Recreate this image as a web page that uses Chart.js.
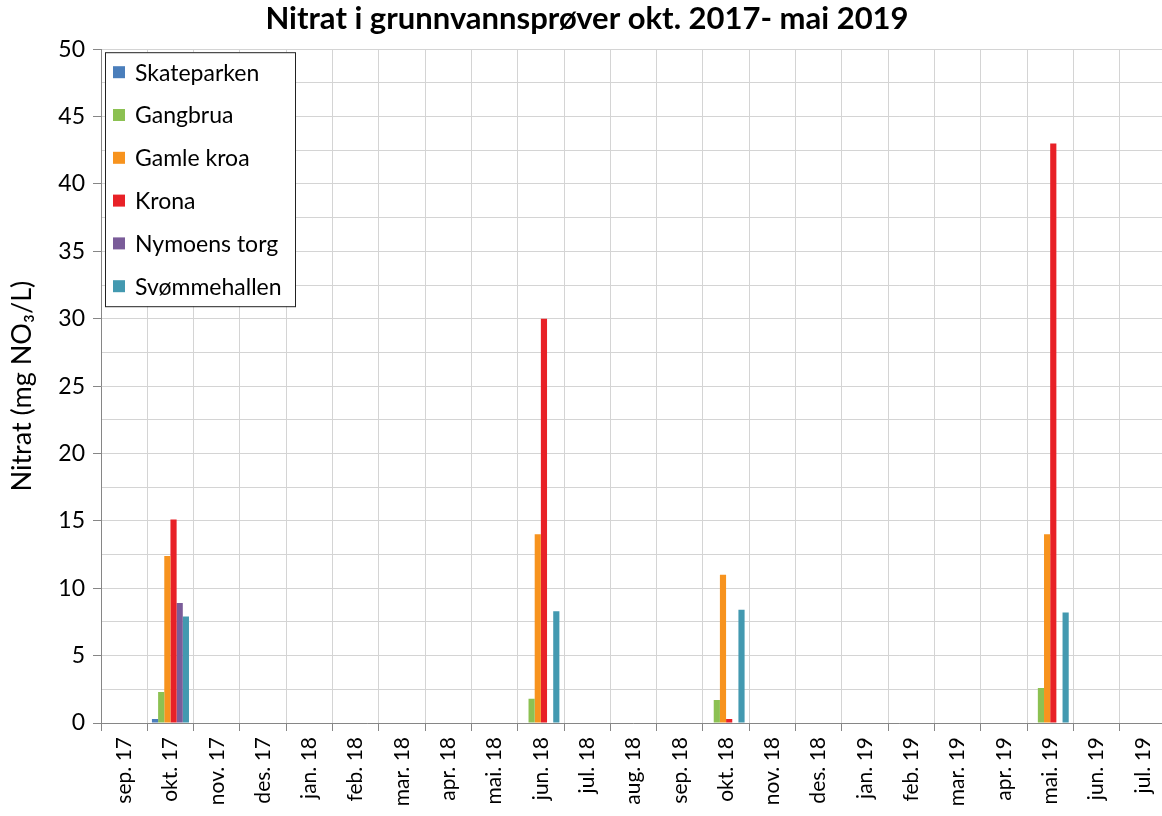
<!DOCTYPE html>
<html>
<head>
<meta charset="utf-8">
<script src="https://cdn.jsdelivr.net/npm/chart.js@4.4.1/dist/chart.umd.min.js"></script>
<style>
  html, body { margin: 0; padding: 0; background: #fff; overflow: hidden; }
  #wrap { width: 1174px; height: 816px; }
</style>
</head>
<body>
<div id="wrap"><canvas id="nitrat"></canvas></div>
<script>
var months = ["sep. 17", "okt. 17", "nov. 17", "des. 17", "jan. 18", "feb. 18", "mar. 18",
  "apr. 18", "mai. 18", "jun. 18", "jul. 18", "aug. 18", "sep. 18", "okt. 18", "nov. 18",
  "des. 18", "jan. 19", "feb. 19", "mar. 19", "apr. 19", "mai. 19", "jun. 19", "jul. 19"];

// one value per month, null where nothing was sampled
var skateparken = [null, 0.3, null, null, null, null, null, null, null, null, null, null,
  null, null, null, null, null, null, null, null, null, null, null];
var gangbrua = [null, 2.3, null, null, null, null, null, null, null, 1.8, null, null,
  null, 1.7, null, null, null, null, null, null, 2.6, null, null];
var gamleKroa = [null, 12.4, null, null, null, null, null, null, null, 14.0, null, null,
  null, 11.0, null, null, null, null, null, null, 14.0, null, null];
var krona = [null, 15.1, null, null, null, null, null, null, null, 30.0, null, null,
  null, 0.3, null, null, null, null, null, null, 43.0, null, null];
var nymoensTorg = [null, 8.9, null, null, null, null, null, null, null, null, null, null,
  null, null, null, null, null, null, null, null, null, null, null];
var svommehallen = [null, 7.9, null, null, null, null, null, null, null, 8.3, null, null,
  null, 8.4, null, null, null, null, null, null, 8.2, null, null];

var font = "Lato, 'Open Sans', sans-serif";

// boxed legend drawn inside the plot area, top left
var boxLegend = {
  id: 'boxLegend',
  afterDraw: function(chart) {
    var c = chart.ctx, a = chart.chartArea;
    var x = a.left + 4, y = a.top + 3, w = 190, h = 254;
    c.save();
    c.fillStyle = '#fff';
    c.fillRect(x, y, w, h);
    c.strokeStyle = '#222';
    c.lineWidth = 1;
    c.strokeRect(x + 0.5, y + 0.5, w, h);
    c.font = '23px ' + font;
    c.textBaseline = 'middle';
    chart.data.datasets.forEach(function(ds, i) {
      var cy = y + 20 + i * 42.8;
      c.fillStyle = ds.backgroundColor;
      c.fillRect(x + 8, cy - 6, 12, 12);
      c.fillStyle = '#000';
      c.fillText(ds.label, x + 30, cy + 1);
    });
    c.restore();
  }
};

var ctx = document.getElementById("nitrat").getContext('2d');
var nitrat = new Chart(ctx, {
  type: 'bar',
  data: {
    labels: months,
    datasets: [
      { label: "Skateparken", data: skateparken, backgroundColor: "#4a7ebb" },
      { label: "Gangbrua", data: gangbrua, backgroundColor: "#8cc152" },
      { label: "Gamle kroa", data: gamleKroa, backgroundColor: "#f7931e" },
      { label: "Krona", data: krona, backgroundColor: "#e82127" },
      { label: "Nymoens torg", data: nymoensTorg, backgroundColor: "#7a5c99" },
      { label: "Svømmehallen", data: svommehallen, backgroundColor: "#4399b0" }
    ]
  },
  options: {
    responsive: true,
    maintainAspectRatio: false,
    animation: false,
    layout: { padding: { top: 0, right: 0, left: 0, bottom: 0 } },
    datasets: { bar: { categoryPercentage: 0.8, barPercentage: 1.0 } },
    plugins: {
      legend: { display: false },
      tooltip: { enabled: false },
      title: {
        display: true,
        text: "Nitrat i grunnvannsprøver okt. 2017- mai 2019",
        color: '#000',
        font: { family: font, size: 31, weight: 'bold' },
        padding: { top: 0, bottom: 12 }
      }
    },
    scales: {
      x: {
        grid: { offset: true, color: '#d4d4d4', tickColor: '#868686', tickLength: 8 },
        border: { color: '#868686' },
        ticks: {
          color: '#000', maxRotation: 90, minRotation: 90, padding: 6,
          font: { family: font, size: 21 }
        },
        afterFit: function(s) { s.height = 93; }
      },
      y: {
        min: 0, max: 50,
        grid: {
          color: '#d4d4d4', tickLength: 8,
          tickColor: function(c) { return c.tick && c.tick.value % 5 === 0 ? '#868686' : 'rgba(0,0,0,0)'; }
        },
        border: { color: '#868686' },
        ticks: {
          stepSize: 2.5, color: '#000', padding: 8,
          font: { family: font, size: 23 },
          callback: function(v) { return v % 5 === 0 ? v : ''; }
        },
        title: {
          display: true, text: "Nitrat (mg NO₃/L)", color: '#000',
          font: { family: font, size: 27 }, padding: { top: 6, bottom: 0 }
        },
        afterFit: function(s) { s.width = 101; }
      }
    }
  },
  plugins: [boxLegend]
});
</script>
</body>
</html>
